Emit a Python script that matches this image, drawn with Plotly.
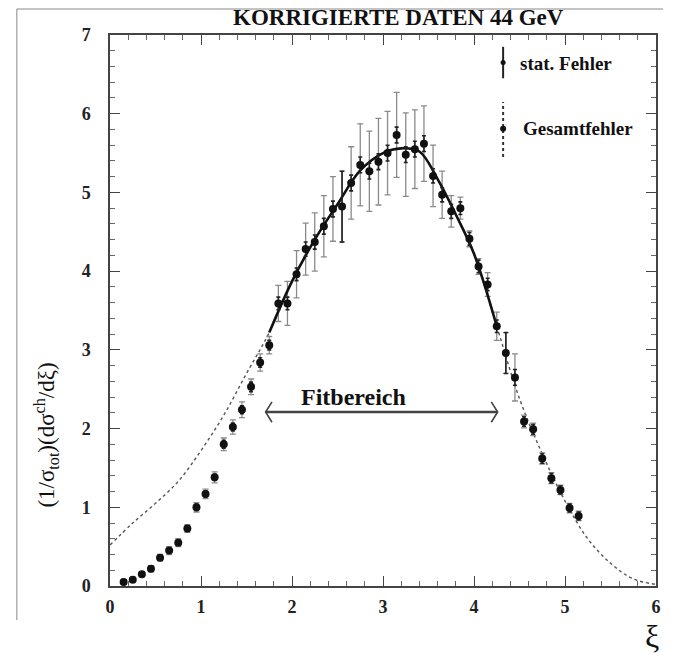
import plotly.graph_objects as go

# ---------------- data ----------------
xi = [0.15, 0.25, 0.35, 0.45, 0.55, 0.65, 0.75, 0.85, 0.95, 1.05,
      1.15, 1.25, 1.35, 1.45, 1.55, 1.65, 1.75, 1.85, 1.95, 2.05,
      2.15, 2.25, 2.35, 2.45, 2.55, 2.65, 2.75, 2.85, 2.95, 3.05,
      3.15, 3.25, 3.35, 3.45, 3.55, 3.65, 3.75, 3.85, 3.95, 4.05,
      4.15, 4.25, 4.35, 4.45, 4.55, 4.65, 4.75, 4.85, 4.95, 5.05, 5.15]
dist = [0.05, 0.08, 0.15, 0.22, 0.36, 0.45, 0.55, 0.73, 1.00, 1.17,
        1.38, 1.80, 2.02, 2.24, 2.53, 2.84, 3.06, 3.59, 3.59, 3.96,
        4.28, 4.37, 4.57, 4.79, 4.82, 5.12, 5.35, 5.27, 5.39, 5.50,
        5.73, 5.48, 5.55, 5.62, 5.21, 4.97, 4.76, 4.80, 4.41, 4.06,
        3.83, 3.30, 2.96, 2.65, 2.09, 1.99, 1.62, 1.37, 1.22, 0.99, 0.89]
err_total = [0.03, 0.03, 0.03, 0.04, 0.04, 0.05, 0.05, 0.05, 0.06, 0.06,
             0.07, 0.08, 0.09, 0.10, 0.10, 0.11, 0.11, 0.23, 0.28, 0.30,
             0.33, 0.37, 0.39, 0.41, 0.45, 0.46, 0.52, 0.51, 0.55, 0.53,
             0.54, 0.53, 0.50, 0.48, 0.39, 0.30, 0.20, 0.14, 0.10, 0.10,
             0.15, 0.18, 0.26, 0.30, 0.08, 0.08, 0.07, 0.07, 0.06, 0.06, 0.06]
err_stat = [0.02, 0.02, 0.02, 0.02, 0.03, 0.03, 0.03, 0.03, 0.04, 0.04,
            0.04, 0.05, 0.05, 0.05, 0.06, 0.06, 0.06, 0.08, 0.08, 0.08,
            0.09, 0.09, 0.10, 0.10, 0.45, 0.10, 0.10, 0.10, 0.10, 0.10,
            0.10, 0.10, 0.10, 0.10, 0.09, 0.09, 0.09, 0.08, 0.08, 0.08,
            0.08, 0.08, 0.26, 0.10, 0.06, 0.06, 0.06, 0.06, 0.05, 0.05, 0.05]

curve_xi = [0.0, 0.25, 0.5, 0.75, 1.0, 1.25, 1.5, 1.75, 2.0, 2.25, 2.5,
            2.75, 3.0, 3.2, 3.4, 3.6, 3.8, 4.0, 4.25, 4.5, 4.75, 5.0,
            5.25, 5.5, 5.75, 6.0]
curve_val = [0.52, 0.80, 1.05, 1.33, 1.72, 2.17, 2.70, 3.22, 3.87, 4.40, 4.85,
             5.28, 5.50, 5.56, 5.52, 5.17, 4.72, 4.22, 3.30, 2.38, 1.68, 1.08,
             0.60, 0.29, 0.09, 0.02]

fit_range = [1.71, 4.26]
fit_label = "Fitbereich"
title_text = "KORRIGIERTE DATEN 44 GeV"
x_ticks = [0, 1, 2, 3, 4, 5, 6]
y_ticks = [0, 1, 2, 3, 4, 5, 6, 7]
legend_labels = ["stat. Fehler", "Gesamtfehler"]

# ---------------- layout constants ----------------
W, H = 673, 653
ML, MR, MT, MB = 110, 12, 35, 67
PW, PH = W - ML - MR, H - MT - MB
SERIF = "Liberation Serif, Times New Roman, serif"

def px_to_paper(px, py):
    return (px - ML) / PW, (H - MB - py) / PH

fig = go.Figure()

# dotted extrapolated curve (full range)
fig.add_trace(go.Scatter(x=curve_xi, y=curve_val, mode="lines",
                         line=dict(color="#555", width=1.4, dash="dot", shape="spline"),
                         hoverinfo="skip", showlegend=False))

# total errors (grey, capped)
fig.add_trace(go.Scatter(x=xi, y=dist, mode="markers",
                         marker=dict(size=1, color="rgba(0,0,0,0)"),
                         error_y=dict(type="data", array=err_total, visible=True,
                                      color="#8a8a8a", thickness=1.3, width=3),
                         showlegend=False))

# solid fit curve within fit range
fx = [x for x in curve_xi if fit_range[0] - 0.05 <= x <= fit_range[1] + 0.05]
fy = [v for x, v in zip(curve_xi, curve_val) if fit_range[0] - 0.05 <= x <= fit_range[1] + 0.05]
fig.add_trace(go.Scatter(x=fx, y=fy, mode="lines",
                         line=dict(color="#111", width=2.6, shape="spline"),
                         hoverinfo="skip", showlegend=False))

# data with stat errors
fig.add_trace(go.Scatter(x=xi, y=dist, mode="markers",
                         marker=dict(size=8, color="#111"),
                         error_y=dict(type="data", array=err_stat, visible=True,
                                      color="#222", thickness=1.6, width=2),
                         showlegend=False))

# ---------- Fitbereich arrow ----------
ay = 2.21
fig.add_trace(go.Scatter(x=fit_range, y=[ay, ay], mode="lines",
                         line=dict(color="#444", width=2.4), hoverinfo="skip", showlegend=False))
dx, dy = 0.07, 0.13
fig.add_trace(go.Scatter(x=[fit_range[0] + dx, fit_range[0], fit_range[0] + dx, None,
                            fit_range[1] - dx, fit_range[1], fit_range[1] - dx],
                         y=[ay + dy, ay, ay - dy, None, ay + dy, ay, ay - dy],
                         mode="lines", line=dict(color="#444", width=1.6),
                         hoverinfo="skip", showlegend=False))
fig.add_annotation(x=2.08, y=2.40, text=fit_label, showarrow=False,
                   xanchor="left", yanchor="middle",
                   font=dict(family=SERIF, size=24, color="#111", weight="bold"))

# ---------- legend (drawn by hand, like the original) ----------
lx = 4.32
fig.add_trace(go.Scatter(x=[lx], y=[6.65], mode="markers",
                         marker=dict(size=5, color="#111"),
                         error_y=dict(type="data", array=[0.2], visible=True,
                                      color="#222", thickness=2, width=0),
                         showlegend=False))
fig.add_trace(go.Scatter(x=[lx, lx], y=[5.45, 6.15], mode="lines",
                         line=dict(color="#333", width=2, dash="dot"),
                         hoverinfo="skip", showlegend=False))
fig.add_trace(go.Scatter(x=[lx], y=[5.81], mode="markers",
                         marker=dict(size=6, color="#111"), showlegend=False))
fig.add_annotation(x=4.48, y=6.64, text=legend_labels[0], showarrow=False,
                   xanchor="left", yanchor="middle",
                   font=dict(family=SERIF, size=19, color="#111", weight="bold"))
fig.add_annotation(x=4.52, y=5.81, text=legend_labels[1], showarrow=False,
                   xanchor="left", yanchor="middle",
                   font=dict(family=SERIF, size=19, color="#111", weight="bold"))

# ---------- title and axis labels ----------
tx, ty = px_to_paper(401, 18)
fig.add_annotation(xref="paper", yref="paper", x=tx, y=ty, text=title_text, showarrow=False,
                   xanchor="center", yanchor="middle",
                   font=dict(family=SERIF, size=23, color="#111", weight="bold"))
ylx, yly = px_to_paper(45, 435)
fig.add_annotation(xref="paper", yref="paper", x=ylx, y=yly, textangle=-90, showarrow=False,
                   xanchor="center", yanchor="middle",
                   text="(1/σ<sub>tot</sub>)(dσ<sup>ch</sup>/dξ)",
                   font=dict(family=SERIF, size=23, color="#111"))
xlx, xly = px_to_paper(657, 636)
fig.add_annotation(xref="paper", yref="paper", x=xlx, y=xly, text="ξ", showarrow=False,
                   xanchor="center", yanchor="middle",
                   font=dict(family=SERIF, size=32, color="#111"))

# scanned-page border lines
bl, bt = px_to_paper(16, 9)
br, bb = px_to_paper(668, 620)
fig.add_shape(type="line", xref="paper", yref="paper", x0=bl, x1=br, y0=bt, y1=bt,
              line=dict(color="#888", width=1))
fig.add_shape(type="line", xref="paper", yref="paper", x0=bl, x1=bl, y0=bt, y1=bb,
              line=dict(color="#888", width=1))

axis_common = dict(showline=True, linecolor="#444", linewidth=1.5, mirror="ticks",
                   ticks="inside", ticklen=10, tickwidth=1.3, tickcolor="#444",
                   showgrid=False, zeroline=False,
                   tickfont=dict(family=SERIF, size=18, color="#222", weight="bold"),
                   minor=dict(dtick=0.2, ticks="inside", ticklen=5, tickcolor="#666",
                              tickwidth=1, showgrid=False))

fig.update_xaxes(range=[0, 6], tickvals=x_ticks, ticklabelstandoff=4, **axis_common)
fig.update_yaxes(range=[0, 7], tickvals=y_ticks, ticklabelstandoff=14, **axis_common)

fig.update_layout(width=W, height=H, margin=dict(l=ML, r=MR, t=MT, b=MB),
                  plot_bgcolor="white", paper_bgcolor="white", showlegend=False)

fig.write_html("out.html")
